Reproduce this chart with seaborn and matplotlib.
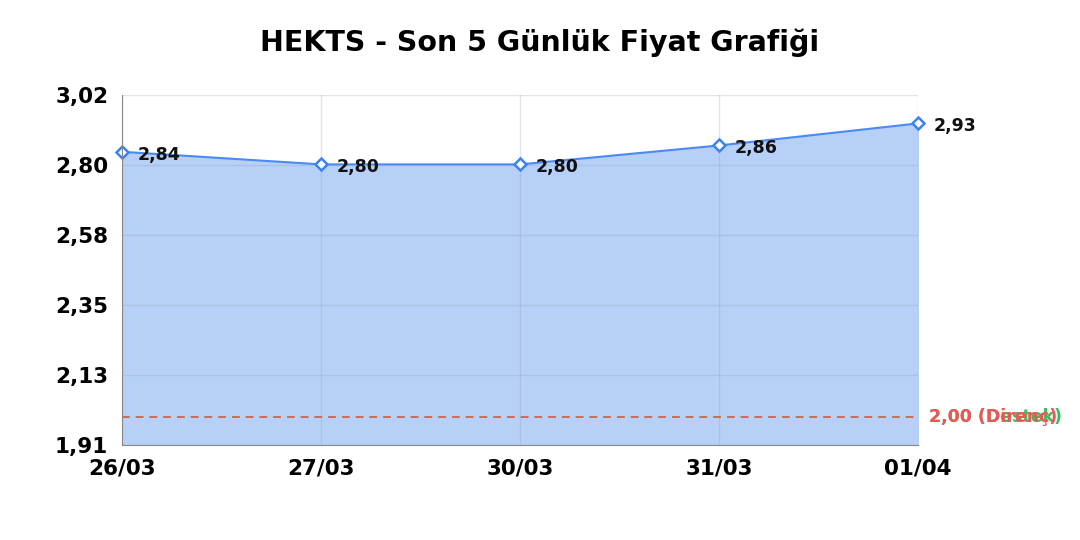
import numpy as np
import matplotlib
matplotlib.use("Agg")
import matplotlib.pyplot as plt
import seaborn as sns

dates = ["26/03", "27/03", "30/03", "31/03", "01/04"]
prices = [2.84, 2.80, 2.80, 2.86, 2.93]
support = 2.00
resistance = 2.00
y_min, y_max = 1.91, 3.02

sns.set_style("white")
plt.rcParams["font.family"] = ["DejaVu Sans"]
plt.rcParams["text.color"] = "black"
plt.rcParams["xtick.color"] = "black"
plt.rcParams["ytick.color"] = "black"

fig, ax = plt.subplots(figsize=(10.8, 5.4), dpi=100)
fig.subplots_adjust(left=0.113, right=0.85, top=0.824, bottom=0.176)

x = np.arange(len(dates))

# area under the price line
ax.fill_between(x, prices, y_min, color="#b7d0f7", zorder=1)
sns.lineplot(x=x, y=prices, ax=ax, color="#4a8af4", linewidth=1.5,
             marker="D", markersize=6, markerfacecolor="white",
             markeredgecolor="#3b82f6", markeredgewidth=1.8, zorder=4,
             clip_on=False)

for xi, p in zip(x, prices):
    ax.annotate(f"{p:.2f}".replace(".", ","), (xi, p), xytext=(11, -2),
                textcoords="offset points", ha="left", va="center",
                fontsize=12.5, fontweight="bold", color="#111111", zorder=5)

# support / resistance levels (same value, labels drawn on top of each other)
ax.axhline(support, color="#3dbb5e", linestyle=(0, (5, 4)), linewidth=1.1, zorder=3)
ax.axhline(resistance, color="#f05454", linestyle=(0, (5, 4)), linewidth=1.1, zorder=3)
ax.annotate(f"{support:.2f} (Destek)".replace(".", ","), (x[-1], support),
            xytext=(8, 0), textcoords="offset points", ha="left", va="center",
            fontsize=12.5, fontweight="bold", color="#3dbb5e", annotation_clip=False)
ax.annotate(f"{resistance:.2f} (Direnç)".replace(".", ","), (x[-1], resistance),
            xytext=(8, 0), textcoords="offset points", ha="left", va="center",
            fontsize=12.5, fontweight="bold", color="#f05454", annotation_clip=False)

ax.set_xlim(x[0], x[-1])
ax.set_ylim(y_min, y_max)
yticks = np.linspace(y_min, y_max, 6)
ax.set_yticks(yticks)
ax.set_yticklabels([f"{v:.2f}".replace(".", ",") for v in yticks])
ax.set_xticks(x)
ax.set_xticklabels(dates)
ax.tick_params(axis="both", length=0, labelsize=15.5, pad=10)
for lbl in ax.get_xticklabels() + ax.get_yticklabels():
    lbl.set_fontweight("bold")

ax.grid(True, color="#8a96aa", alpha=0.25, linewidth=1)
ax.set_axisbelow(False)
for side in ["top", "right"]:
    ax.spines[side].set_visible(False)
ax.spines["left"].set_color("#888888")
ax.spines["bottom"].set_color("#888888")
ax.spines["left"].set_zorder(6)

fig.suptitle("HEKTS - Son 5 Günlük Fiyat Grafiği", fontsize=20.5,
             fontweight="bold", x=0.5, y=1 - 43 / 540, va="center")

fig.savefig("out.png", dpi=100)
